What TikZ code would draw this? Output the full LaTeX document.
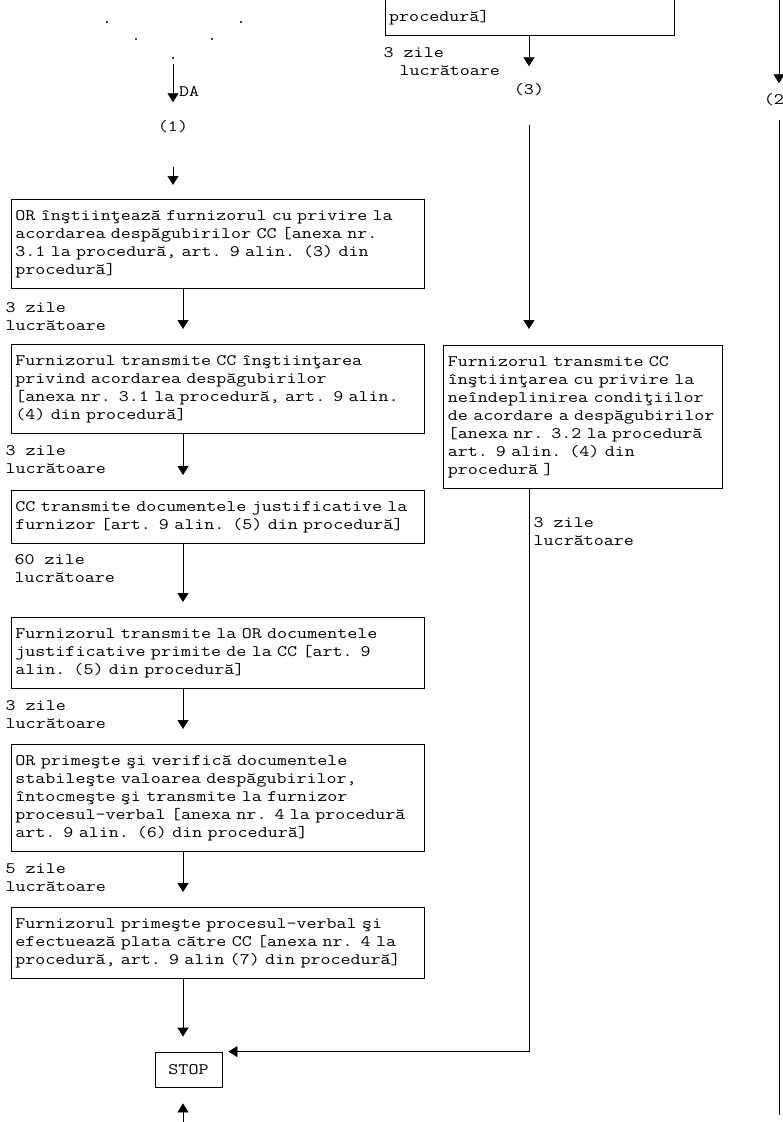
\documentclass[tikz,border=0pt]{standalone}
\usepackage{fontspec}
\setmonofont[FakeStretch=1.216]{Latin Modern Mono}
\usetikzlibrary{arrows.meta}
\setlength{\parindent}{0pt}
\begin{document}
\begin{tikzpicture}[x=1pt,y=-1pt,
  every node/.style={font=\fontsize{16}{18}\selectfont\ttfamily},
  boxbase/.style={draw, line width=0.8pt, anchor=north west, align=left,
    inner ysep=8.5pt, execute at begin node=\strut, execute at end node=\strut},
  lbox/.style={boxbase, inner xsep=4pt, text width=405pt},
  rboxs/.style={boxbase, inner xsep=4.5pt, text width=270pt},
  lab/.style={anchor=north west, align=left, inner sep=0pt, execute at begin node=\strut},
  dotn/.style={circle, fill, inner sep=0pt, minimum size=2.2pt},
  conn/.style={line width=0.8pt},
  arr/.style={conn, -{Triangle[length=9pt,width=11pt]}}
]
\useasboundingbox (0,0) rectangle (782,1122);

% top fragments
\node[dotn] (d1) at (107,22) {};
\node[dotn] (d2) at (241,22) {};
\node[dotn] (d3) at (136,39) {};
\node[dotn] (d4) at (212,39) {};
\node[dotn] (d5) at (173,58) {};
\node (n1) at (173,127) {(1)};
\node[anchor=west, inner sep=0pt] (da) at (179,91) {DA};

\node[draw, line width=0.8pt, anchor=south west, minimum width=289pt, minimum height=60pt, inner sep=0pt] (topbox) at (385,36) {};
\node[anchor=west, inner sep=0pt] (toptext) at (389,18) {procedură]};
\node (n3) at (529,90) {(3)};
\node[lab] (l7) at (383.5,47.4) {3 zile\\\hspace*{16pt}lucrătoare};

\node (n2) at (779,100) {(2)};
\coordinate (r0) at (779,-2);
\coordinate (rend) at (779,1115);

\coordinate (colA) at (183,0);
\coordinate (colB) at (529,0);

% left column
\node[lbox] (b1) at (11,199) {OR înştiinţează furnizorul cu privire la\\acordarea despăgubirilor CC [anexa nr.\\3.1 la procedură, art. 9 alin. (3) din\\procedură]};
\node[lbox] (b2) at (11,344) {Furnizorul transmite CC înştiinţarea\\privind acordarea despăgubirilor\\{}[anexa nr. 3.1 la procedură, art. 9 alin.\\(4) din procedură]};
\node[lbox] (b3) at (11,490) {CC transmite documentele justificative la\\furnizor [art. 9 alin. (5) din procedură]};
\node[lbox] (b4) at (11,617) {Furnizorul transmite la OR documentele\\justificative primite de la CC [art. 9\\alin. (5) din procedură]};
\node[lbox] (b5) at (11,744) {OR primeşte şi verifică documentele\\stabileşte valoarea despăgubirilor,\\întocmeşte şi transmite la furnizor\\procesul-verbal [anexa nr. 4 la procedură\\art. 9 alin. (6) din procedură]};
\node[lbox] (b6) at (11,907) {Furnizorul primeşte procesul-verbal şi\\efectuează plata către CC [anexa nr. 4 la\\procedură, art. 9 alin (7) din procedură]};
\node[draw, line width=0.8pt, minimum width=67pt, minimum height=35pt, inner sep=0pt] (stop) at (188.5,1069.5) {STOP};

% right box
\node[rboxs] (rbox) at (443,345) {Furnizorul transmite CC\\înştiinţarea cu privire la\\neîndeplinirea condiţiilor\\de acordare a despăgubirilor\\{}[anexa nr. 3.2 la procedură\\art. 9 alin. (4) din\\procedură ]};

% labels
\node[lab] (l1) at (5.5,302.4) {3 zile\\lucrătoare};
\node[lab] (l2) at (5.5,445.4) {3 zile\\lucrătoare};
\node[lab] (l3) at (14.5,554.4) {60 zile\\lucrătoare};
\node[lab] (l4) at (5.5,700.4) {3 zile\\lucrătoare};
\node[lab] (l5) at (5.5,863.4) {5 zile\\lucrătoare};
\node[lab] (l6) at (533.5,517.4) {3 zile\\lucrătoare};

\coordinate (bot) at (183,1124);

% connectors
\draw[arr, shorten <=5pt, shorten >=15pt] (d5) -- (n1);
\draw[arr, shorten <=30pt, shorten >=14pt] (n1) -- (b1.north -| n1);
\draw[arr, shorten >=15pt] (b1.south -| colA) -- (b2.north -| colA);
\draw[arr, shorten >=15pt] (b2.south -| colA) -- (b3.north -| colA);
\draw[arr, shorten >=15pt] (b3.south -| colA) -- (b4.north -| colA);
\draw[arr, shorten >=15pt] (b4.south -| colA) -- (b5.north -| colA);
\draw[arr, shorten >=15pt] (b5.south -| colA) -- (b6.north -| colA);
\draw[arr, shorten >=15pt] (b6.south -| colA) -- (stop.north -| colA);
\draw[arr, shorten >=16pt] (bot) -- (stop.south -| bot);

\draw[arr, shorten >=14pt] (topbox.south -| n3) -- (n3);
\draw[arr, shorten <=25pt, shorten >=16pt] (n3) -- (rbox.north -| n3);
\draw[arr] (rbox.south -| colB) |- ([xshift=6pt]stop.north east);

\draw[arr, shorten >=7pt] (r0) -- (n2);
\draw[conn, shorten <=10pt] (n2) -- (rend);
\end{tikzpicture}
\end{document}
